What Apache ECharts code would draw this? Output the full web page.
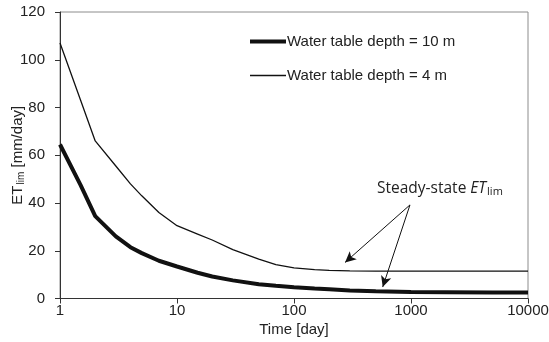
<!DOCTYPE html>
<html><head><meta charset="utf-8">
<script src="https://cdn.jsdelivr.net/npm/echarts@6/dist/echarts.min.js"></script>
<style>html,body{margin:0;padding:0;background:#fff}#c{width:549px;height:342px}</style>
</head><body><div id="c"></div>
<script>
var times = [1, 1.5, 2, 3, 4, 5, 7, 10, 15, 20, 30, 50, 70, 100, 150, 200, 300, 500, 1000, 2000, 5000, 10000];
var depth10 = [64.5, 47.5, 34.5, 26, 21.5, 19, 15.8, 13.4, 10.8, 9.2, 7.6, 6.0, 5.3, 4.7, 4.2, 3.9, 3.4, 3.0, 2.7, 2.6, 2.5, 2.5];
var depth4 = [107, 83, 66, 55.5, 48, 43, 36, 30.5, 27, 24.5, 20.5, 16.5, 14.2, 12.8, 12.1, 11.8, 11.6, 11.5, 11.5, 11.5, 11.5, 11.5];
var seriesNames = ['Water table depth = 10 m', 'Water table depth = 4 m'];
var lineWidths = [4, 1.3];
var yTicks = [0, 20, 40, 60, 80, 100, 120];
var arrowStart = [980, 39.2];
var arrowEnds = [[273, 15.1], [573, 4.8]];

function pairs(xs, ys) { return xs.map(function (x, i) { return [x, ys[i]]; }); }

var chart = echarts.init(document.getElementById('c'));
var font = "Arial, 'Liberation Sans', sans-serif";
chart.setOption({
  animation: false,
  grid: { left: 60, right: 21, top: 12, bottom: 43.5, show: true, borderColor: '#8c8c8c', borderWidth: 1, outerBoundsMode: 'none', containLabel: false },
  legend: {
    orient: 'vertical', left: 243, top: 29, itemWidth: 36, itemHeight: 14, itemGap: 19,
    data: seriesNames.map(function (n, i) {
      return { name: n, itemStyle: { opacity: 0 }, lineStyle: { color: '#111', width: lineWidths[i] } };
    }),
    textStyle: { fontFamily: font, fontSize: 15, color: '#222', padding: [0, 0, 0, -4] },
    selectedMode: false
  },
  xAxis: {
    type: 'log', logBase: 10, min: 1, max: 10000,
    name: 'Time [day]', nameLocation: 'middle', nameGap: 24, nameMoveOverlap: false,
    nameTextStyle: { fontFamily: font, fontSize: 15, color: '#222' },
    axisLine: { lineStyle: { color: '#333', width: 1 } },
    axisTick: { show: true, length: 5, lineStyle: { color: '#333' } },
    minorTick: { show: false },
    axisLabel: { fontFamily: font, fontSize: 15, color: '#222', margin: 5, formatter: function (v) { return String(Math.round(v)); } },
    splitLine: { show: false }
  },
  yAxis: {
    type: 'value', min: yTicks[0], max: yTicks[yTicks.length - 1], interval: 20,
    name: '{n|ET}{s|lim}{n| [mm/day]}', nameLocation: 'middle', nameGap: 34, nameMoveOverlap: false,
    nameTextStyle: {
      rich: {
        n: { fontFamily: font, fontSize: 15, color: '#222' },
        s: { fontFamily: font, fontSize: 10, color: '#222', padding: [7, 0, 0, 1] }
      }
    },
    axisLine: { show: true, lineStyle: { color: '#333', width: 1 } },
    axisTick: { show: true, length: 5, inside: false, lineStyle: { color: '#333' } },
    axisLabel: { fontFamily: font, fontSize: 15, color: '#222', margin: 15 },
    splitLine: { show: false }
  },
  series: [
    {
      name: seriesNames[0], type: 'line', data: pairs(times, depth10), symbol: 'none', smooth: false,
      lineStyle: { color: '#111', width: lineWidths[0] }, itemStyle: { color: '#111' },
      markLine: {
        silent: true, symbol: ['none', 'arrow'], symbolSize: [8, 11],
        label: { show: false },
        lineStyle: { color: '#111', width: 1, type: 'solid' },
        data: arrowEnds.map(function (e) { return [{ coord: arrowStart }, { coord: e }]; })
      }
    },
    {
      name: seriesNames[1], type: 'line', data: pairs(times, depth4), symbol: 'none', smooth: false,
      lineStyle: { color: '#111', width: lineWidths[1] }, itemStyle: { color: '#111' }
    }
  ],
  graphic: [{
    type: 'text', left: 377, top: 181,
    style: {
      text: '{n|Steady-state }{i|ET}{s|lim}',
      rich: {
        n: { fontFamily: 'Open Sans, sans-serif', fontSize: 15.5, fill: '#222' },
        i: { fontFamily: 'Open Sans, sans-serif', fontSize: 15.5, fontStyle: 'italic', fill: '#222' },
        s: { fontFamily: 'Open Sans, sans-serif', fontSize: 11, fill: '#222', padding: [6, 0, 0, 1] }
      }
    }
  }]
});
</script></body></html>
